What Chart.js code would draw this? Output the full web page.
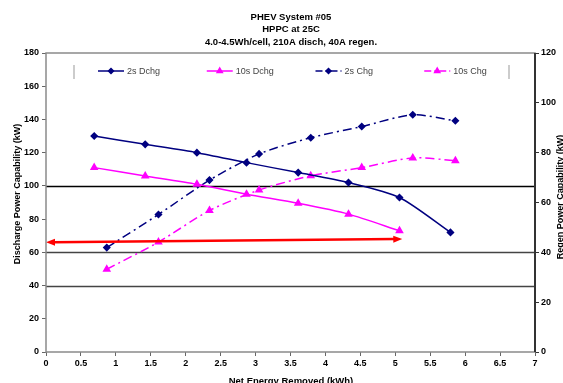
<!DOCTYPE html>
<html>
<head>
<meta charset="utf-8">
<script src="https://cdn.jsdelivr.net/npm/chart.js@4/dist/chart.umd.min.js"></script>
<style>
  html, body { margin: 0; padding: 0; background: #fff; overflow: hidden; }
  canvas { display: block; }
</style>
</head>
<body>
<canvas id="c" width="563" height="383"></canvas>
<script>
// Chart text
const titleLines = ['PHEV System #05', 'HPPC at 25C', '4.0-4.5Wh/cell, 210A disch, 40A regen.'];
const leftAxisTitle = 'Discharge Power Capability (kW)';
const rightAxisTitle = 'Regen Power Capability (kW)';
const xAxisTitle = 'Net Energy Removed (kWh)';
const seriesNames = ['2s Dchg', '10s Dchg', '2s Chg', '10s Chg'];

// Tick values
const xTickValues = [0, 0.5, 1, 1.5, 2, 2.5, 3, 3.5, 4, 4.5, 5, 5.5, 6, 6.5, 7];
const leftTickValues = [0, 20, 40, 60, 80, 100, 120, 140, 160, 180];
const rightTickValues = [0, 20, 40, 60, 80, 100, 120];

// Discharge pulses (left axis)
const dchgEnergy = [0.69, 1.42, 2.16, 2.87, 3.61, 4.33, 5.06, 5.79];
const dchg2s = [130, 125, 120, 114, 108, 102, 93, 72];
const dchg10s = [111, 106, 101, 95, 89.5, 83, 73];

// Charge (regen) pulses (right axis)
const chgEnergy = [0.87, 1.61, 2.34, 3.05, 3.79, 4.52, 5.25, 5.86];
const chg2s = [41.9, 55.2, 69, 79.5, 86, 90.5, 95.2, 92.8];
const chg10s = [33.2, 44.1, 56.8, 65, 70.7, 74, 77.9, 76.8];

// Horizontal reference levels on the discharge axis
const refLevels = [100, 60, 40];
// Usable-energy window arrow: [energy, power] at each end
const arrowStart = [0, 66];
const arrowEnd = [5.1, 68];

const NAVY = '#000080';
const MAGENTA = '#FF00FF';
const FONT = "'Liberation Sans', Arial, sans-serif";
const DASHDOT = [9, 4, 2, 4];

const pts = (xs, ys) => ys.map((y, i) => ({ x: xs[i], y }));

const decor = {
  id: 'decor',
  beforeDatasetsDraw(chart) {
    const { ctx, chartArea: a, scales } = chart;
    const y = scales.y;
    ctx.save();
    refLevels.forEach((v, i) => {
      const py = Math.round(y.getPixelForValue(v)) + 0.5;
      ctx.strokeStyle = i === 0 ? '#000' : '#444';
      ctx.lineWidth = 1.5;
      ctx.beginPath();
      ctx.moveTo(a.left, py);
      ctx.lineTo(a.right, py);
      ctx.stroke();
    });
    ctx.restore();
  },
  afterDatasetsDraw(chart) {
    const { ctx, scales } = chart;
    const x = scales.x, y = scales.y;
    const x1 = x.getPixelForValue(arrowStart[0]), y1 = y.getPixelForValue(arrowStart[1]);
    const x2 = x.getPixelForValue(arrowEnd[0]), y2 = y.getPixelForValue(arrowEnd[1]);
    const ang = Math.atan2(y2 - y1, x2 - x1);
    const head = 9, half = 3.5;
    ctx.save();
    ctx.strokeStyle = '#FF0000';
    ctx.fillStyle = '#FF0000';
    ctx.lineWidth = 2.5;
    ctx.beginPath();
    ctx.moveTo(x1 + Math.cos(ang) * head * 0.8, y1 + Math.sin(ang) * head * 0.8);
    ctx.lineTo(x2 - Math.cos(ang) * head * 0.8, y2 - Math.sin(ang) * head * 0.8);
    ctx.stroke();
    const drawHead = (px, py, dir) => {
      ctx.beginPath();
      ctx.moveTo(px, py);
      ctx.lineTo(px - Math.cos(dir) * head - Math.sin(dir) * half, py - Math.sin(dir) * head + Math.cos(dir) * half);
      ctx.lineTo(px - Math.cos(dir) * head + Math.sin(dir) * half, py - Math.sin(dir) * head - Math.cos(dir) * half);
      ctx.closePath();
      ctx.fill();
    };
    drawHead(x2, y2, ang);
    drawHead(x1, y1, ang + Math.PI);
    ctx.restore();
  },
  afterDraw(chart) {
    const { ctx, chartArea: a } = chart;
    ctx.save();
    // plot frame
    ctx.strokeStyle = '#8a8a8a';
    ctx.lineWidth = 1.5;
    ctx.strokeRect(a.left, a.top, a.right - a.left, a.bottom - a.top);
    ctx.strokeStyle = '#333';
    ctx.lineWidth = 2;
    ctx.beginPath();
    ctx.moveTo(a.right, a.top);
    ctx.lineTo(a.right, a.bottom);
    ctx.stroke();

    // title
    ctx.fillStyle = '#000';
    ctx.font = 'bold 9.5px ' + FONT;
    ctx.textAlign = 'center';
    ctx.textBaseline = 'middle';
    titleLines.forEach((t, i) => ctx.fillText(t, 291, 17 + i * 12.5));

    // axis titles
    ctx.font = 'bold 9px ' + FONT;
    ctx.save();
    ctx.translate(18, 194);
    ctx.rotate(-Math.PI / 2);
    ctx.fillText(leftAxisTitle, 0, 0);
    ctx.restore();
    ctx.save();
    ctx.translate(561, 197);
    ctx.rotate(-Math.PI / 2);
    ctx.fillText(rightAxisTitle, 0, 0);
    ctx.restore();
    ctx.textBaseline = 'top';
    ctx.font = 'bold 9.5px ' + FONT;
    ctx.fillText(xAxisTitle, 291, 377);

    // legend inside the plot
    const lx0 = 74, lx1 = 509, ly = 71;
    ctx.strokeStyle = '#bbb';
    ctx.lineWidth = 1.5;
    [lx0, lx1].forEach(bx => {
      ctx.beginPath();
      ctx.moveTo(bx, 65);
      ctx.lineTo(bx, 79);
      ctx.stroke();
    });
    const slot = (lx1 - lx0) / 4;
    ctx.font = '9px ' + FONT;
    ctx.textAlign = 'left';
    ctx.textBaseline = 'middle';
    chart.data.datasets.forEach((ds, i) => {
      const sx = lx0 + 24 + i * slot;
      ctx.strokeStyle = ds.borderColor;
      ctx.lineWidth = ds.borderWidth;
      ctx.setLineDash(ds.borderDash ? [7, 3, 2, 3] : []);
      ctx.beginPath();
      ctx.moveTo(sx, ly);
      ctx.lineTo(sx + 26, ly);
      ctx.stroke();
      ctx.setLineDash([]);
      ctx.fillStyle = ds.pointBackgroundColor;
      Chart.helpers.drawPoint(ctx, {
        pointStyle: ds.pointStyle, rotation: 0, radius: ds.pointRadius - 0.5, borderWidth: 1
      }, sx + 13, ly);
      ctx.fillStyle = '#444';
      ctx.fillText(ds.label, sx + 29, ly + 0.5);
    });
    ctx.restore();
  }
};

const tickFont = { family: FONT, size: 9, weight: 'bold' };
const setTicks = values => scale => { scale.ticks = values.map(v => ({ value: v })); };

new Chart(document.getElementById('c'), {
  type: 'line',
  data: {
    datasets: [
      {
        label: seriesNames[0], data: pts(dchgEnergy, dchg2s), yAxisID: 'y',
        borderColor: NAVY, backgroundColor: NAVY, pointBackgroundColor: NAVY, pointBorderColor: NAVY,
        borderWidth: 1.5, pointStyle: 'rectRot', pointRadius: 3, tension: 0.25
      },
      {
        label: seriesNames[1], data: pts(dchgEnergy, dchg10s), yAxisID: 'y',
        borderColor: MAGENTA, backgroundColor: MAGENTA, pointBackgroundColor: MAGENTA, pointBorderColor: MAGENTA,
        borderWidth: 1.5, pointStyle: 'triangle', pointRadius: 3.5, tension: 0.25
      },
      {
        label: seriesNames[2], data: pts(chgEnergy, chg2s), yAxisID: 'y2',
        borderColor: NAVY, backgroundColor: NAVY, pointBackgroundColor: NAVY, pointBorderColor: NAVY,
        borderWidth: 1.5, borderDash: DASHDOT, pointStyle: 'rectRot', pointRadius: 3, tension: 0.25
      },
      {
        label: seriesNames[3], data: pts(chgEnergy, chg10s), yAxisID: 'y2',
        borderColor: MAGENTA, backgroundColor: MAGENTA, pointBackgroundColor: MAGENTA, pointBorderColor: MAGENTA,
        borderWidth: 1.5, borderDash: DASHDOT, pointStyle: 'triangle', pointRadius: 3.5, tension: 0.25
      }
    ]
  },
  options: {
    responsive: false,
    animation: false,
    layout: { padding: { top: 53, left: 0, right: 0, bottom: 0 } },
    plugins: { legend: { display: false }, tooltip: { enabled: false } },
    scales: {
      x: {
        type: 'linear', min: 0, max: 7,
        afterBuildTicks: setTicks(xTickValues),
        afterFit: s => { s.height = 31; },
        border: { display: false },
        grid: { drawOnChartArea: false, drawTicks: true, tickLength: 4, tickColor: '#666', lineWidth: 1 },
        ticks: { color: '#000', font: tickFont, padding: 2, maxRotation: 0, autoSkip: false,
                 callback: v => String(v) }
      },
      y: {
        type: 'linear', position: 'left', min: 0, max: 180,
        afterBuildTicks: setTicks(leftTickValues),
        afterFit: s => { s.width = 46; },
        border: { display: false },
        grid: { drawOnChartArea: false, drawTicks: true, tickLength: 4, tickColor: '#666', lineWidth: 1 },
        ticks: { color: '#000', font: tickFont, padding: 3 }
      },
      y2: {
        type: 'linear', position: 'right', min: 0, max: 120,
        afterBuildTicks: setTicks(rightTickValues),
        afterFit: s => { s.width = 28; },
        border: { display: false },
        grid: { drawOnChartArea: false, drawTicks: true, tickLength: 4, tickColor: '#333', lineWidth: 1 },
        ticks: { color: '#000', font: tickFont, padding: 2 }
      }
    }
  },
  plugins: [decor]
});
</script>
</body>
</html>
